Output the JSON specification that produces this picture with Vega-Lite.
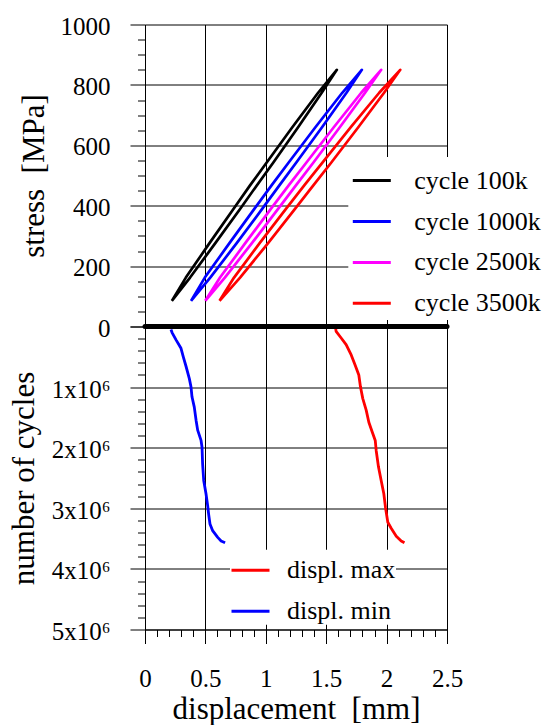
{
  "$schema": "https://vega.github.io/schema/vega-lite/v6.json",
  "padding": {"left": 7, "top": 13.5, "right": 0, "bottom": 0},
  "background": "white",
  "spacing": 0,
  "bounds": "flush",
  "config": {
    "font": "Liberation Serif",
    "view": {"stroke": "black", "strokeWidth": 1},
    "axis": {"domainColor": "black", "tickColor": "black", "labelColor": "black", "titleColor": "black", "labelFont": "Liberation Serif", "titleFont": "Liberation Serif", "labelFontSize": 25, "titleFontSize": 31, "titleFontWeight": "normal", "gridColor": "black", "gridWidth": 1, "labelOverlap": false, "labelFlush": false, "tickWidth": 1, "domainWidth": 1, "minExtent": 0},
    "legend": {"labelFont": "Liberation Serif", "labelFontSize": 26, "labelColor": "black", "labelLimit": 0, "symbolType": "stroke", "symbolSize": 1444, "symbolStrokeWidth": 3, "fillColor": "white", "orient": "none"}
  },
  "datasets": {
    "loops": [
      {"c": "cycle 100k", "i": 0, "x": 0.222, "s": 85},
      {"c": "cycle 100k", "i": 1, "x": 0.373, "s": 162},
      {"c": "cycle 100k", "i": 2, "x": 0.582, "s": 276},
      {"c": "cycle 100k", "i": 3, "x": 0.790, "s": 391},
      {"c": "cycle 100k", "i": 4, "x": 0.927, "s": 468},
      {"c": "cycle 100k", "i": 5, "x": 1.064, "s": 544},
      {"c": "cycle 100k", "i": 6, "x": 1.266, "s": 659},
      {"c": "cycle 100k", "i": 7, "x": 1.463, "s": 774},
      {"c": "cycle 100k", "i": 8, "x": 1.588, "s": 850},
      {"c": "cycle 100k", "i": 9, "x": 1.433, "s": 774},
      {"c": "cycle 100k", "i": 10, "x": 1.218, "s": 659},
      {"c": "cycle 100k", "i": 11, "x": 1.009, "s": 544},
      {"c": "cycle 100k", "i": 12, "x": 0.871, "s": 468},
      {"c": "cycle 100k", "i": 13, "x": 0.735, "s": 391},
      {"c": "cycle 100k", "i": 14, "x": 0.534, "s": 276},
      {"c": "cycle 100k", "i": 15, "x": 0.338, "s": 162},
      {"c": "cycle 100k", "i": 16, "x": 0.222, "s": 85},
      {"c": "cycle 1000k", "i": 0, "x": 0.381, "s": 85},
      {"c": "cycle 1000k", "i": 1, "x": 0.540, "s": 162},
      {"c": "cycle 1000k", "i": 2, "x": 0.759, "s": 276},
      {"c": "cycle 1000k", "i": 3, "x": 0.973, "s": 391},
      {"c": "cycle 1000k", "i": 4, "x": 1.114, "s": 468},
      {"c": "cycle 1000k", "i": 5, "x": 1.254, "s": 544},
      {"c": "cycle 1000k", "i": 6, "x": 1.464, "s": 659},
      {"c": "cycle 1000k", "i": 7, "x": 1.668, "s": 774},
      {"c": "cycle 1000k", "i": 8, "x": 1.795, "s": 850},
      {"c": "cycle 1000k", "i": 9, "x": 1.633, "s": 774},
      {"c": "cycle 1000k", "i": 10, "x": 1.409, "s": 659},
      {"c": "cycle 1000k", "i": 11, "x": 1.191, "s": 544},
      {"c": "cycle 1000k", "i": 12, "x": 1.049, "s": 468},
      {"c": "cycle 1000k", "i": 13, "x": 0.908, "s": 391},
      {"c": "cycle 1000k", "i": 14, "x": 0.699, "s": 276},
      {"c": "cycle 1000k", "i": 15, "x": 0.495, "s": 162},
      {"c": "cycle 1000k", "i": 16, "x": 0.381, "s": 85},
      {"c": "cycle 2500k", "i": 0, "x": 0.499, "s": 85},
      {"c": "cycle 2500k", "i": 1, "x": 0.661, "s": 162},
      {"c": "cycle 2500k", "i": 2, "x": 0.885, "s": 276},
      {"c": "cycle 2500k", "i": 3, "x": 1.105, "s": 391},
      {"c": "cycle 2500k", "i": 4, "x": 1.251, "s": 468},
      {"c": "cycle 2500k", "i": 5, "x": 1.396, "s": 544},
      {"c": "cycle 2500k", "i": 6, "x": 1.611, "s": 659},
      {"c": "cycle 2500k", "i": 7, "x": 1.822, "s": 774},
      {"c": "cycle 2500k", "i": 8, "x": 1.955, "s": 850},
      {"c": "cycle 2500k", "i": 9, "x": 1.790, "s": 774},
      {"c": "cycle 2500k", "i": 10, "x": 1.561, "s": 659},
      {"c": "cycle 2500k", "i": 11, "x": 1.338, "s": 544},
      {"c": "cycle 2500k", "i": 12, "x": 1.191, "s": 468},
      {"c": "cycle 2500k", "i": 13, "x": 1.045, "s": 391},
      {"c": "cycle 2500k", "i": 14, "x": 0.830, "s": 276},
      {"c": "cycle 2500k", "i": 15, "x": 0.621, "s": 162},
      {"c": "cycle 2500k", "i": 16, "x": 0.499, "s": 85},
      {"c": "cycle 3500k", "i": 0, "x": 0.617, "s": 85},
      {"c": "cycle 3500k", "i": 1, "x": 0.787, "s": 162},
      {"c": "cycle 3500k", "i": 2, "x": 1.019, "s": 276},
      {"c": "cycle 3500k", "i": 3, "x": 1.245, "s": 391},
      {"c": "cycle 3500k", "i": 4, "x": 1.395, "s": 468},
      {"c": "cycle 3500k", "i": 5, "x": 1.544, "s": 544},
      {"c": "cycle 3500k", "i": 6, "x": 1.764, "s": 659},
      {"c": "cycle 3500k", "i": 7, "x": 1.979, "s": 774},
      {"c": "cycle 3500k", "i": 8, "x": 2.113, "s": 850},
      {"c": "cycle 3500k", "i": 9, "x": 1.939, "s": 774},
      {"c": "cycle 3500k", "i": 10, "x": 1.702, "s": 659},
      {"c": "cycle 3500k", "i": 11, "x": 1.472, "s": 544},
      {"c": "cycle 3500k", "i": 12, "x": 1.320, "s": 468},
      {"c": "cycle 3500k", "i": 13, "x": 1.170, "s": 391},
      {"c": "cycle 3500k", "i": 14, "x": 0.949, "s": 276},
      {"c": "cycle 3500k", "i": 15, "x": 0.737, "s": 162},
      {"c": "cycle 3500k", "i": 16, "x": 0.617, "s": 85}
    ],
    "disp": [
      {"d": "displ. min", "x": 0.215, "n": 50000},
      {"d": "displ. min", "x": 0.224, "n": 100000},
      {"d": "displ. min", "x": 0.257, "n": 220000},
      {"d": "displ. min", "x": 0.298, "n": 360000},
      {"d": "displ. min", "x": 0.317, "n": 500000},
      {"d": "displ. min", "x": 0.340, "n": 660000},
      {"d": "displ. min", "x": 0.367, "n": 860000},
      {"d": "displ. min", "x": 0.381, "n": 1000000},
      {"d": "displ. min", "x": 0.389, "n": 1160000},
      {"d": "displ. min", "x": 0.408, "n": 1330000},
      {"d": "displ. min", "x": 0.423, "n": 1550000},
      {"d": "displ. min", "x": 0.436, "n": 1710000},
      {"d": "displ. min", "x": 0.464, "n": 1880000},
      {"d": "displ. min", "x": 0.472, "n": 1990000},
      {"d": "displ. min", "x": 0.477, "n": 2270000},
      {"d": "displ. min", "x": 0.486, "n": 2540000},
      {"d": "displ. min", "x": 0.505, "n": 2760000},
      {"d": "displ. min", "x": 0.519, "n": 2960000},
      {"d": "displ. min", "x": 0.527, "n": 3100000},
      {"d": "displ. min", "x": 0.538, "n": 3260000},
      {"d": "displ. min", "x": 0.560, "n": 3370000},
      {"d": "displ. min", "x": 0.602, "n": 3480000},
      {"d": "displ. min", "x": 0.630, "n": 3540000},
      {"d": "displ. min", "x": 0.663, "n": 3570000},
      {"d": "displ. max", "x": 1.578, "n": 30000},
      {"d": "displ. max", "x": 1.582, "n": 80000},
      {"d": "displ. max", "x": 1.624, "n": 190000},
      {"d": "displ. max", "x": 1.665, "n": 300000},
      {"d": "displ. max", "x": 1.707, "n": 470000},
      {"d": "displ. max", "x": 1.740, "n": 640000},
      {"d": "displ. max", "x": 1.770, "n": 800000},
      {"d": "displ. max", "x": 1.784, "n": 1000000},
      {"d": "displ. max", "x": 1.803, "n": 1190000},
      {"d": "displ. max", "x": 1.831, "n": 1380000},
      {"d": "displ. max", "x": 1.853, "n": 1580000},
      {"d": "displ. max", "x": 1.881, "n": 1740000},
      {"d": "displ. max", "x": 1.906, "n": 1880000},
      {"d": "displ. max", "x": 1.914, "n": 2050000},
      {"d": "displ. max", "x": 1.933, "n": 2320000},
      {"d": "displ. max", "x": 1.955, "n": 2540000},
      {"d": "displ. max", "x": 1.977, "n": 2760000},
      {"d": "displ. max", "x": 1.991, "n": 2990000},
      {"d": "displ. max", "x": 2.010, "n": 3230000},
      {"d": "displ. max", "x": 2.038, "n": 3330000},
      {"d": "displ. max", "x": 2.080, "n": 3460000},
      {"d": "displ. max", "x": 2.121, "n": 3540000},
      {"d": "displ. max", "x": 2.148, "n": 3570000}
    ]
  },
  "resolve": {"scale": {"color": "independent"}, "legend": {"color": "independent"}},
  "vconcat": [
    {
      "width": 302,
      "height": 302,
      "data": {"name": "loops"},
      "mark": {"type": "line", "strokeWidth": 2.7, "strokeJoin": "round"},
      "encoding": {
        "x": {"field": "x", "type": "quantitative", "scale": {"domain": [0, 2.5], "nice": false, "zero": false},
              "axis": {"values": [0.5, 1, 1.5, 2], "tickCount": 100, "labels": false, "ticks": false, "domain": false, "title": null, "grid": true, "minExtent": 0, "maxExtent": 0, "labelPadding": 0, "offset": 0}},
        "y": {"field": "s", "type": "quantitative", "scale": {"domain": [0, 1000], "nice": false},
              "axis": {"title": "stress\u00a0\u00a0[MPa]",
                       "values": [0, 50, 100, 150, 200, 250, 300, 350, 400, 450, 500, 550, 600, 650, 700, 750, 800, 850, 900, 950, 1000],
                       "tickCount": 100,
                       "labelExpr": "datum.value % 200 === 0 ? format(datum.value, 'd') : ''",
                       "tickSize": {"condition": {"test": "datum.value % 200 === 0", "value": 15}, "value": 7.5},
                       "labelPadding": 20,
                       "labelOffset": 1.5,
                       "grid": true,
                       "gridOpacity": {"condition": {"test": "datum.value % 200 === 0 && datum.value > 0 && datum.value < 1000", "value": 1}, "value": 0},
                       "titleX": -101.5, "titleBaseline": "alphabetic"}},
        "color": {"field": "c", "type": "nominal",
                  "scale": {"domain": ["cycle 100k", "cycle 1000k", "cycle 2500k", "cycle 3500k"], "range": ["#000000", "#0000ff", "#ff00ff", "#ff0000"]},
                  "legend": {"title": null, "orient": "none", "legendX": 203.3, "legendY": 132.6, "padding": 3, "rowPadding": 6.9, "labelOffset": 22}},
        "order": {"field": "i", "type": "quantitative"}
      }
    },
    {
      "width": 302,
      "height": 303,
      "layer": [
        {
          "data": {"name": "disp"},
          "mark": {"type": "line", "strokeWidth": 2.8, "strokeJoin": "round"},
          "encoding": {
            "x": {"field": "x", "type": "quantitative", "scale": {"domain": [0, 2.5], "nice": false, "zero": false},
                  "axis": {"title": "displacement\u00a0\u00a0[mm]",
                           "values": [0, 0.1, 0.2, 0.3, 0.4, 0.5, 0.6, 0.7, 0.8, 0.9, 1, 1.1, 1.2, 1.3, 1.4, 1.5, 1.6, 1.7, 1.8, 1.9, 2, 2.1, 2.2, 2.3, 2.4, 2.5],
                           "tickCount": 100,
                           "labelExpr": "abs(datum.value*2 - round(datum.value*2)) < 0.001 ? format(datum.value, '~g') : ''",
                           "tickSize": {"condition": {"test": "abs(datum.value*2 - round(datum.value*2)) < 0.001", "value": 14}, "value": 7},
                           "labelPadding": 23,
                           "grid": true,
                           "gridOpacity": {"condition": {"test": "abs(datum.value*2 - round(datum.value*2)) < 0.001 && datum.value > 0.01 && datum.value < 2.49", "value": 1}, "value": 0},
                           "titleY": 88.5, "titleBaseline": "alphabetic"}},
            "y": {"field": "n", "type": "quantitative", "scale": {"domain": [0, 5000000], "nice": false, "reverse": true},
                  "axis": {"title": "number of cycles",
                           "values": [0, 200000, 400000, 600000, 800000, 1000000, 1200000, 1400000, 1600000, 1800000, 2000000, 2200000, 2400000, 2600000, 2800000, 3000000, 3200000, 3400000, 3600000, 3800000, 4000000, 4200000, 4400000, 4600000, 4800000, 5000000],
                           "tickCount": 100,
                           "labelExpr": "datum.value % 1000000 === 0 && datum.value > 0 ? format(datum.value / 1000000, 'd') + 'x10\u2076' : ''",
                           "tickSize": {"condition": {"test": "datum.value % 1000000 === 0", "value": 15}, "value": 7.5},
                           "labelPadding": 20,
                           "labelOffset": 2,
                           "grid": true,
                           "gridOpacity": {"condition": {"test": "datum.value % 1000000 === 0 && datum.value > 0 && datum.value < 5000000", "value": 1}, "value": 0},
                           "titleX": -112, "titleBaseline": "alphabetic"}},
            "color": {"field": "d", "type": "nominal",
                      "scale": {"domain": ["displ. max", "displ. min"], "range": ["#ff0000", "#0000ff"]},
                      "legend": {"title": null, "orient": "none", "legendX": 85, "legendY": 223.2, "padding": 0, "rowPadding": 7.1, "labelOffset": 16}},
            "order": {"field": "n", "type": "quantitative"}
          }
        },
        {
          "data": {"values": [{}]},
          "mark": {"type": "rule", "strokeWidth": 5, "strokeCap": "round", "color": "black"},
          "encoding": {"y": {"datum": 0}}
        }
      ]
    }
  ]
}
